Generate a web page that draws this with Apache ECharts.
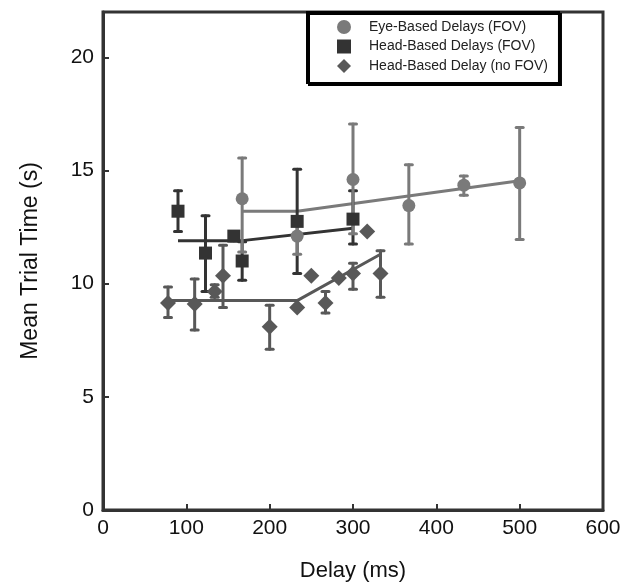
<!DOCTYPE html>
<html>
<head>
<meta charset="utf-8">
<script src="https://cdn.jsdelivr.net/npm/echarts@6/dist/echarts.min.js"></script>
<style>
  html, body { margin: 0; padding: 0; background: #fff; }
  #chart { width: 631px; height: 588px; }
</style>
</head>
<body>
<div id="chart"></div>
<script>
// Eye-Based Delays (FOV)
var eyeDelay = [167, 233, 300, 367, 433, 500];
var eyeMean  = [13.75, 12.1, 14.6, 13.45, 14.35, 14.45];
var eyeLow   = [11.4, 11.3, 12.2, 11.75, 13.9, 11.95];
var eyeHigh  = [15.55, 12.9, 17.05, 15.25, 14.75, 16.9];
var eyeFit   = [[167, 13.2], [233, 13.2], [500, 14.55]];

// Head-Based Delays (FOV)
var headDelay = [90, 123, 157, 167, 233, 300];
var headMean  = [13.2, 11.35, 12.1, 11.0, 12.75, 12.85];
var headLow   = [12.3, 9.65, 11.9, 10.15, 10.45, 11.75];
var headHigh  = [14.1, 13.0, 12.3, 11.85, 15.05, 14.1];
var headFit   = [[90, 11.9], [167, 11.9], [300, 12.45]];

// Head-Based Delay (no FOV)
var noDelay = [78, 110, 134, 144, 200, 233, 250, 267, 283, 300, 317, 333];
var noMean  = [9.15, 9.1, 9.65, 10.35, 8.1, 8.95, 10.35, 9.15, 10.25, 10.45, 12.3, 10.45];
var noLow   = [8.5, 7.95, 9.4, 8.95, 7.1, null, null, 8.7, null, 9.75, null, 9.4];
var noHigh  = [9.85, 10.2, 9.95, 11.7, 9.05, null, null, 9.65, null, 10.9, null, 11.45];
var noFit   = [[78, 9.25], [233, 9.25], [333, 11.3]];

var xTicks = [0, 100, 200, 300, 400, 500, 600];
var yTicks = [0, 5, 10, 15, 20];

var cEye = '#7a7a7a', cHead = '#333333', cNo = '#585858';

function pts(x, y) {
  return x.map(function (v, i) { return [v, y[i]]; });
}
function bars(x, lo, hi) {
  var out = [];
  x.forEach(function (v, i) {
    if (lo[i] != null) out.push([v, lo[i], hi[i]]);
  });
  return out;
}
function errSeries(data, color) {
  return {
    type: 'custom',
    data: data,
    z: 3,
    renderItem: function (params, api) {
      var a = api.coord([api.value(0), api.value(1)]);
      var b = api.coord([api.value(0), api.value(2)]);
      var st = { stroke: color, lineWidth: 3, lineCap: 'round' };
      return {
        type: 'group',
        children: [
          { type: 'line', shape: { x1: a[0], y1: a[1], x2: b[0], y2: b[1] }, style: st },
          { type: 'line', shape: { x1: a[0] - 3.5, y1: a[1], x2: a[0] + 3.5, y2: a[1] }, style: st },
          { type: 'line', shape: { x1: b[0] - 3.5, y1: b[1], x2: b[0] + 3.5, y2: b[1] }, style: st }
        ]
      };
    }
  };
}
function fitSeries(data, color) {
  return {
    type: 'line', data: data, showSymbol: false, symbol: 'none', z: 2,
    lineStyle: { color: color, width: 3 }, silent: true
  };
}

var chart = echarts.init(document.getElementById('chart'));
chart.setOption({
  animation: false,
  textStyle: { fontFamily: 'Liberation Sans, Arial, sans-serif' },
  grid: {
    left: 103, right: 28, top: 12, bottom: 78,
    show: true, borderColor: '#333', borderWidth: 3
  },
  legend: {
    data: [
      { name: 'Eye-Based Delays (FOV)', icon: 'circle' },
      { name: 'Head-Based Delays (FOV)', icon: 'rect' },
      { name: 'Head-Based Delay (no FOV)', icon: 'diamond' }
    ],
    orient: 'vertical',
    left: 307, top: 12,
    padding: [8, 11, 10, 30],
    itemWidth: 14, itemHeight: 14, itemGap: 5.5,
    backgroundColor: '#fff',
    borderColor: '#000', borderWidth: 2,
    shadowColor: '#000', shadowBlur: 0, shadowOffsetX: 2, shadowOffsetY: 2,
    textStyle: { fontSize: 14, color: '#222', lineHeight: 14, padding: [0, 0, 0, 13] }
  },
  xAxis: {
    type: 'value', min: 0, max: 600, interval: 100,
    name: 'Delay (ms)', nameLocation: 'middle', nameGap: 50,
    nameTextStyle: { fontSize: 22, color: '#111' },
    axisLine: { lineStyle: { color: '#333', width: 3 } },
    axisTick: { inside: true, length: 6, lineStyle: { color: '#333', width: 2 } },
    axisLabel: { fontSize: 21, color: '#111', margin: 8,
      formatter: function (v) { return xTicks.indexOf(v) >= 0 ? String(v) : ''; } },
    splitLine: { show: false }
  },
  yAxis: {
    type: 'value', min: 0, max: 22, interval: 5,
    name: 'Mean Trial Time (s)', nameLocation: 'middle', nameGap: 61,
    nameTextStyle: { fontSize: 23, color: '#111' },
    axisLine: { lineStyle: { color: '#333', width: 3 } },
    axisTick: { inside: true, length: 6, lineStyle: { color: '#333', width: 2 } },
    axisLabel: { fontSize: 21, color: '#111', margin: 9, showMaxLabel: false,
      formatter: function (v) { return yTicks.indexOf(v) >= 0 ? String(v) : ''; } },
    splitLine: { show: false }
  },
  series: [
    fitSeries(noFit, cNo),
    fitSeries(headFit, cHead),
    fitSeries(eyeFit, cEye),
    errSeries(bars(noDelay, noLow, noHigh), cNo),
    errSeries(bars(headDelay, headLow, headHigh), cHead),
    errSeries(bars(eyeDelay, eyeLow, eyeHigh), cEye),
    {
      name: 'Head-Based Delay (no FOV)', type: 'scatter', symbol: 'diamond', symbolSize: 16, z: 4,
      itemStyle: { color: cNo, opacity: 1 }, data: pts(noDelay, noMean)
    },
    {
      name: 'Head-Based Delays (FOV)', type: 'scatter', symbol: 'rect', symbolSize: 13, z: 4,
      itemStyle: { color: cHead, opacity: 1 }, data: pts(headDelay, headMean)
    },
    {
      name: 'Eye-Based Delays (FOV)', type: 'scatter', symbol: 'circle', symbolSize: 13, z: 4,
      itemStyle: { color: cEye, opacity: 1 }, data: pts(eyeDelay, eyeMean)
    }
  ]
});
</script>
</body>
</html>
